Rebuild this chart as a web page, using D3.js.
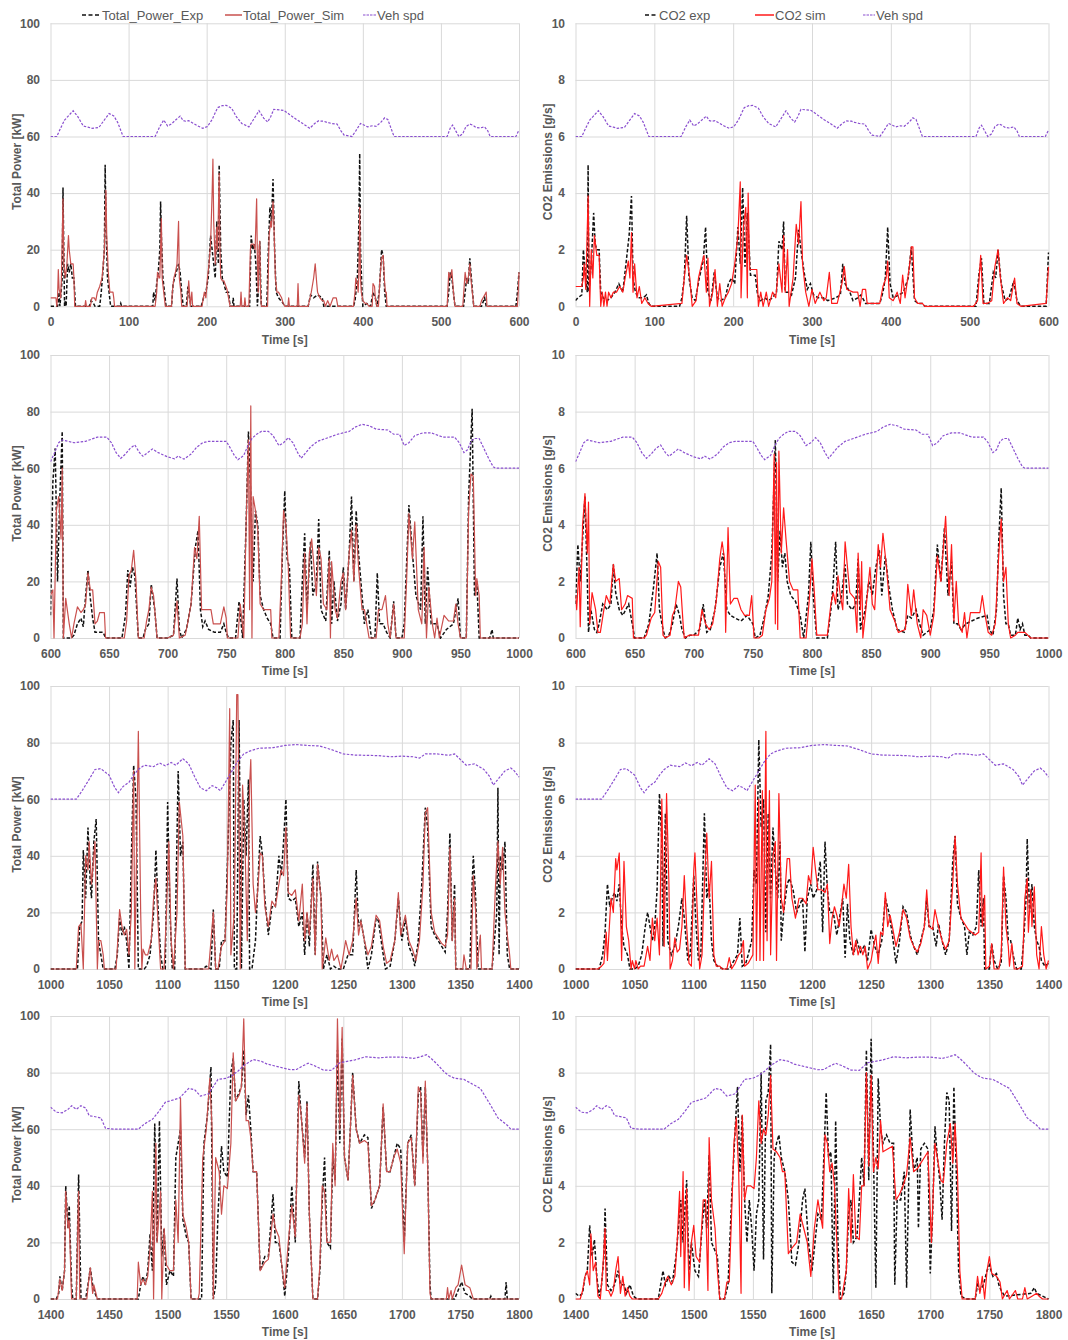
<!DOCTYPE html>
<html><head><meta charset="utf-8">
<script src="https://cdn.jsdelivr.net/npm/d3@7"></script>
<style>body{margin:0;background:#fff;}svg{display:block;font-family:"Liberation Sans",Arial,sans-serif;}</style>
</head><body>
<script>
// ---------- DATA ----------
const panelRanges = [[0,600],[600,1000],[1000,1400],[1400,1800]];
const timeTicks = [[0,100,200,300,400,500,600],[600,650,700,750,800,850,900,950,1000],[1000,1050,1100,1150,1200,1250,1300,1350,1400],[1400,1450,1500,1550,1600,1650,1700,1750,1800]];
const powerTicks = [0,20,40,60,80,100];
const co2Ticks = [0,2,4,6,8,10];
const legendPower = ["Total_Power_Exp","Total_Power_Sim","Veh spd"];
const legendCo2 = ["CO2 exp","CO2 sim","Veh spd"];

// vehicle speed trace as plotted (power-axis units; CO2 panels show it /10)
const vehSpd = [[0,60],[8,60],[13,63],[18,65.8],[23,67.3],[29,69.1],[35,67],[42,63.7],[48,63.3],[53,62.9],[62,63.2],[68,65.5],[75,68.1],[81,67.3],[86,65],[93,60],[134,60],[140,63.5],[145,65.8],[150,63.7],[155,64.5],[161,66],[166,67.2],[170,65.6],[173,65.4],[177,65.6],[182,64.8],[188,63.8],[195,62.9],[201,63.5],[207,66],[214,70.2],[220,70.9],[225,71],[232,70],[238,67],[245,64.6],[254,63.4],[260,66],[267,69.1],[273,66.5],[278,65.1],[282,67],[286,69.6],[299,69.2],[306,67.8],[315,66],[322,64.8],[332,62.9],[338,64.5],[343,65.5],[350,65.4],[354,65],[360,64.6],[367,64.4],[372,62],[376,60.5],[386,60],[391,62],[397,64.6],[402,64],[406,63.4],[412,63.8],[417,63.6],[423,65],[428,66.6],[432,66],[436,63],[440,60],[508,60],[512,63],[515,64],[519,62],[523,60],[528,61],[532,63.5],[537,64.4],[541,64],[545,63.2],[550,63],[556,63.4],[560,62],[563,60],[596,60],[600,62.3],
[603,65],[607,69],[610,70],[615,69.5],[620,69],[630,69.5],[640,71],[648,71],[652,69],[656,65.5],[660,63.5],[664,65],[668,67],[672,68.2],[676,65.5],[679,64.2],[683,65.5],[687,66.8],[692,65.5],[700,64],[706,63.3],[709,64.3],[711,63.8],[714,63.2],[720,65],[725,67.5],[730,69],[735,69.5],[750,69.5],[753,67.5],[757,64.5],[760,63],[765,64.5],[768,67.5],[772,70.5],[776,72],[780,73],[786,73],[790,71.5],[795,68],[799,69],[803,70.8],[807,69],[811,65.5],[814,63.5],[818,65.5],[822,67.5],[828,69.5],[835,70.5],[845,72],[855,73],[860,74.5],[866,75.5],[872,75],[878,73.8],[888,73.5],[893,72],[898,72],[902,68],[906,69],[911,71.5],[918,72.5],[925,72.5],[935,71],[945,71],[949,69],[953,65.5],[956,66.5],[959,69.5],[962,70.5],[966,70.5],[970,67],[974,63.5],[978,60.5],[980,60],[1000,60],
[1022,60],[1027,63],[1033,67],[1038,70.5],[1043,70.8],[1050,68.5],[1055,64],[1058,62.3],[1062,64.5],[1067,66],[1071,68.5],[1075,70.5],[1080,72],[1088,71.5],[1093,72.8],[1098,71.8],[1103,73],[1107,72],[1113,74.3],[1118,72.5],[1123,68],[1128,64],[1133,63],[1138,64.8],[1142,64],[1145,63],[1150,66.5],[1155,70],[1160,73.5],[1165,76],[1170,77],[1178,78],[1190,78.2],[1200,79],[1210,79.3],[1220,79],[1230,78.8],[1240,77.5],[1250,76],[1260,75.6],[1270,75.5],[1280,75.4],[1290,75],[1300,75.2],[1310,75],[1315,74.5],[1320,76],[1330,76],[1340,75.5],[1345,76],[1350,74],[1355,72],[1362,72.5],[1370,70.5],[1375,68],[1378,65],[1383,67.5],[1388,70],[1393,71],[1396,70],[1400,67.8],
[1405,66],[1410,65.8],[1415,67],[1418,68.3],[1422,67],[1426,68.3],[1430,67.5],[1433,64.8],[1437,64.5],[1443,64],[1447,60.3],[1455,60],[1475,60],[1480,61.8],[1487,63.5],[1492,66],[1498,69.5],[1510,71],[1518,74.4],[1523,74],[1528,71.7],[1535,72.5],[1543,77.6],[1550,78],[1555,79],[1560,80.5],[1565,82.5],[1573,84.6],[1580,84],[1585,83],[1590,82.5],[1600,81.5],[1605,81],[1610,81.1],[1615,82.3],[1620,83.3],[1625,82.5],[1633,80.9],[1640,80.8],[1647,83.5],[1660,84.5],[1669,85.6],[1680,85.2],[1690,85.5],[1700,85.5],[1710,85],[1715,85.5],[1721,86.3],[1725,85],[1730,83],[1736,80.3],[1740,79],[1745,78],[1753,77.6],[1760,76],[1767,74.4],[1775,69],[1782,64],[1790,61.4],[1793,60],[1800,60]];

// ---- 0-600 s ----
const powerExpA = [[0,0],[9,0],[10,1],[11,5],[12,0],[13,3],[15,10],[16,42],[17,20],[18,0],[19,2],[20,0],[21,8],[22,15],[24,12],[26,15],[28,10],[30,10],[31,5],[32,0],[50,0],[52,2],[55,1],[57,0],[63,0],[65,5],[67,12],[69,20],[70,50],[71,30],[73,10],[75,5],[77,0],[89,0],[90,1],[91,0],[131,0],[132,5],[134,2],[136,8],[138,12],[140,20],[141,37],[142,25],[144,10],[146,5],[148,0],[155,0],[157,8],[159,10],[161,12],[164,15],[166,12],[168,5],[170,0],[174,0],[176,7],[178,3],[180,0],[193,0],[196,3],[199,5],[202,10],[205,25],[207,20],[209,15],[211,10],[213,30],[215,15],[216,50],[218,20],[220,10],[222,8],[225,5],[228,5],[230,0],[233,0],[234,3],[235,0],[255,0],[257,25],[259,20],[261,22],[263,15],[265,0],[266,5],[268,23],[269,10],[270,0],[277,0],[279,20],[281,35],[283,30],[285,45],[287,20],[289,5],[292,3],[295,2],[298,1],[300,0],[330,0],[333,4],[337,3],[342,4],[348,3],[350,0],[388,0],[390,2],[393,10],[395,30],[396,54],[397,20],[399,5],[400,0],[405,1],[410,0],[413,5],[416,3],[418,0],[421,5],[423,15],[424,20],[426,18],[428,5],[430,0],[508,0],[510,5],[512,12],[514,10],[516,5],[518,0],[529,0],[531,5],[533,10],[535,8],[537,17],[539,10],[542,0],[552,0],[556,3],[558,0],[596,0],[598,5],[600,12]];
const powerSimA = [[0,3],[7,3],[8,0],[9,3],[10,13],[11,6],[12,5],[13,3],[14,10],[16,38],[17,15],[19,10],[21,15],[23,25],[24,20],[26,15],[29,15],[30,10],[31,0],[44,0],[45,2],[46,0],[51,0],[53,3],[56,3],[58,2],[60,5],[63,7],[66,10],[69,20],[71,41],[72,25],[74,12],[76,5],[78,5],[80,5],[81,3],[82,0],[134,0],[136,5],[137,12],[139,10],[140,10],[142,31],[143,10],[145,5],[147,0],[155,0],[156,5],[158,10],[160,12],[162,15],[164,30],[165,10],[167,5],[168,0],[175,0],[177,9],[178,5],[179,0],[181,5],[182,0],[194,0],[197,5],[199,3],[201,10],[203,15],[205,22],[207,40],[208,52],[209,30],[211,15],[213,28],[214,20],[216,47],[217,20],[218,10],[220,9],[222,9],[226,6],[228,3],[230,0],[243,0],[244,5],[245,0],[248,0],[249,3],[250,0],[254,0],[256,20],[257,22],[260,22],[262,20],[264,38],[265,15],[266,5],[267,20],[268,23],[269,5],[270,0],[278,0],[280,25],[282,30],[283,28],[285,37],[286,30],[288,10],[290,5],[292,5],[294,4],[296,3],[298,1],[300,0],[304,0],[305,3],[306,0],[316,0],[317,8],[318,0],[330,0],[334,5],[337,10],[339,15],[341,8],[342,5],[345,3],[348,2],[350,2],[352,0],[355,2],[358,0],[362,3],[366,3],[368,0],[388,0],[390,5],[391,10],[393,8],[394,5],[395,12],[396,35],[397,10],[398,5],[400,2],[403,1],[405,1],[408,0],[412,0],[413,8],[415,7],[416,3],[418,0],[420,0],[422,10],[424,17],[426,18],[428,8],[429,5],[430,5],[431,0],[508,0],[510,12],[512,10],[514,13],[516,5],[518,0],[528,0],[531,12],[533,8],[535,10],[537,15],[539,8],[541,3],[542,0],[550,0],[552,2],[556,4],[558,5],[559,0],[598,0],[599,5],[600,12]];
const co2ExpA = [[0,0.2],[3,0.3],[8,0.4],[10,2.0],[13,1.0],[15,0.5],[16,5.0],[17,0.5],[20,1.5],[23,3.3],[25,2.2],[27,2.0],[30,2.0],[32,0.5],[35,0.3],[40,0.2],[45,0.3],[50,0.5],[55,0.8],[60,0.5],[64,1.5],[68,2.5],[71,3.9],[73,1.0],[76,0.5],[80,0.3],[86,0.3],[90,0.4],[93,0.1],[96,0],[132,0],[135,0.3],[138,1.0],[141,3.2],[144,1.0],[148,0.3],[152,0.2],[157,1.0],[162,1.6],[165,2.8],[168,0.5],[172,0.2],[176,1.2],[180,0.3],[184,0.2],[190,0.3],[194,0.8],[198,1.0],[202,0.8],[206,2.8],[209,1.5],[212,4.2],[215,1.4],[218,3.3],[222,1.1],[228,1.1],[231,0.4],[235,0.2],[240,0.3],[245,0.2],[250,0.3],[255,0.5],[258,2.3],[262,2.0],[264,3.0],[266,0.5],[270,0.5],[274,0.4],[279,1.0],[283,2.7],[286,2.0],[290,1.2],[294,0.6],[298,0.8],[302,0.4],[308,0.3],[314,0.3],[320,0.2],[330,0.3],[336,0.4],[339,1.5],[342,0.8],[348,0.5],[352,0.2],[358,0.3],[362,0.4],[368,0.1],[386,0.1],[390,0.5],[393,1.0],[396,2.8],[399,0.8],[403,0.3],[410,0.4],[416,0.5],[422,1.0],[426,2.1],[430,0.2],[435,0.1],[440,0.1],[443,0],[508,0],[512,1.2],[515,1.7],[518,0.1],[525,0.1],[530,1.2],[533,1.0],[536,2.0],[540,0.8],[545,0.2],[550,0.3],[556,0.9],[560,0.2],[565,0],[597,0],[600,1.9]];
const co2SimA = [[0,0.7],[8,0.7],[10,1.0],[11,1.5],[13,0.6],[16,3.9],[18,0],[20,2.0],[22,1.0],[24,2.5],[27,1.8],[30,1.8],[32,0],[34,0.5],[36,0],[38,0.5],[40,0],[42,0.5],[45,0.3],[48,0.5],[52,0.5],[56,0.7],[60,0.5],[63,1.0],[67,1.6],[69,1.0],[71,2.6],[73,0.5],[75,1.5],[78,0.3],[81,0.7],[84,0.1],[88,0.3],[92,0.1],[96,0],[135,0.1],[138,1.0],[141,1.8],[145,1.0],[148,0],[153,0.2],[156,1.0],[160,1.5],[163,1.8],[166,0.5],[168,1.7],[170,0],[174,0.5],[177,1.3],[180,0],[183,0.8],[186,0],[190,0.3],[194,0.5],[198,0.8],[202,1.5],[206,2.5],[209,4.4],[210,0.3],[213,2.8],[216,3.5],[218,0.3],[219,4.0],[221,1.3],[230,1.3],[232,0],[235,0.5],[238,0],[242,0.5],[245,0],[250,0.5],[254,0.3],[258,1.5],[262,0.5],[264,2.5],[266,0.5],[269,2.0],[271,0],[276,1.0],[280,2.9],[283,2.2],[286,3.7],[288,1.5],[292,0.5],[296,0],[300,0.6],[304,0.1],[310,0.5],[315,0.2],[318,0.3],[322,1.2],[325,0.1],[332,0.1],[338,0.8],[341,1.4],[344,0.6],[352,0.5],[358,0.5],[361,0],[364,0.6],[368,0.6],[370,0.1],[386,0.1],[390,0.7],[394,1.0],[396,1.6],[398,0.3],[403,0.2],[408,0.5],[412,0.1],[415,1.1],[418,0.3],[424,1.5],[426,2.1],[428,2.1],[430,0.3],[434,0.1],[440,0.1],[443,0],[505,0],[510,0.2],[514,1.8],[517,0.1],[522,0.1],[528,0.2],[532,1.4],[536,2.0],[539,1.0],[543,0.1],[548,0.3],[552,0.2],[557,1.0],[560,0.1],[565,0],[597,0.1],[600,1.4]];

// ---- 600-1000 s ----
const powerExpB = [[600,8],[602,55],[604,67],[606,20],[608,50],[610,73],[611,0],[618,0],[620,1],[623,5],[626,7],[628,4],[630,15],[632,24],[634,14],[636,7],[638,2],[645,2],[647,0],[661,0],[664,8],[666,24],[668,18],[670,25],[672,22],[675,0],[679,0],[681,3],[684,5],[686,19],[689,10],[691,0],[700,0],[705,1],[708,21],[710,3],[712,0],[716,3],[720,12],[722,23],[724,33],[726,38],[728,10],[730,4],[732,6],[735,3],[740,2],[745,2],[748,5],[750,2],[752,0],[758,0],[761,13],[764,0],[767,40],[769,73],[771,50],[773,20],[775,45],[777,40],[779,15],[782,10],[785,7],[788,5],[790,0],[796,0],[798,30],[800,52],[802,28],[804,25],[806,0],[813,0],[815,20],[817,37],[819,10],[822,34],[824,15],[827,20],[829,42],[831,10],[835,6],[838,31],[840,5],[842,20],[845,6],[848,12],[850,25],[852,10],[855,30],[857,50],[859,20],[861,45],[863,30],[866,15],[868,5],[871,10],[874,0],[877,0],[879,23],[881,5],[884,5],[887,2],[890,0],[893,13],[895,0],[900,0],[902,5],[906,47],[909,30],[912,15],[916,10],[918,43],[920,5],[922,25],[925,5],[930,5],[933,0],[938,3],[944,5],[948,14],[950,0],[955,0],[957,50],[960,81],[962,15],[964,20],[966,0],[975,0],[977,3],[978,0],[1000,0]];
const powerSimB = [[600,15],[602,17],[603,0],[605,45],[607,50],[609,35],[610,60],[611,0],[613,14],[616,5],[618,0],[620,5],[623,11],[626,9],[628,10],[630,12],[632,23],[634,17],[636,17],[638,5],[640,6],[642,9],[646,9],[647,0],[663,0],[665,6],[667,22],[669,24],[671,31],[673,20],[675,0],[680,0],[682,6],[684,10],[686,18],[688,15],[691,0],[700,0],[705,1],[708,13],[710,0],[715,1],[717,5],[720,12],[723,32],[725,28],[727,43],[729,10],[733,10],[737,10],[739,5],[745,5],[748,11],[750,7],[751,0],[760,0],[762,12],[765,0],[767,40],[769,70],[770,10],[771,82],[772,0],[773,50],[775,45],[777,38],[779,12],[782,10],[788,10],[789,0],[795,0],[797,20],[799,45],[801,40],[803,25],[805,0],[813,0],[815,5],[817,30],[819,5],[821,30],[823,35],[825,25],[827,15],[829,32],[831,28],[833,12],[836,10],[838,28],[839,0],[840,27],[843,10],[845,7],[848,20],[850,23],[852,10],[855,30],[857,38],[859,20],[861,40],[863,25],[866,10],[868,10],[870,5],[872,0],[878,0],[880,10],[883,10],[886,15],[888,5],[890,0],[893,12],[895,0],[902,0],[904,20],[906,44],[909,28],[911,41],[914,10],[917,5],[919,32],[921,0],[923,18],[926,5],[928,0],[930,7],[932,0],[936,8],[940,6],[944,6],[946,12],[948,5],[950,0],[955,0],[957,45],[959,58],[961,57],[963,15],[964,21],[966,15],[967,0],[1000,0]];
const co2ExpB = [[600,1.2],[602,3.3],[604,2.0],[606,3.5],[608,5.0],[610,2.0],[611,0.2],[613,1.0],[616,0.3],[618,0.2],[620,0.5],[623,1.2],[627,1.0],[630,1.2],[632,2.6],[634,1.6],[637,1.0],[640,0.8],[645,1.2],[648,0.5],[650,0],[658,0],[662,0.5],[666,1.8],[669,3.0],[671,1.0],[674,0.3],[676,0],[679,0.1],[682,0.5],[685,1.2],[688,0.8],[690,0.3],[693,0],[697,0.1],[700,0.1],[705,0.3],[708,1.2],[711,0.2],[714,0.3],[718,1.0],[722,2.5],[725,3.0],[728,1.0],[731,0.8],[735,0.7],[740,0.6],[745,0.8],[750,0.5],[752,0],[756,0.1],[760,0.8],[763,1.5],[766,3.0],[769,7.0],[771,2.0],[773,3.8],[775,2.5],[777,3.0],[779,2.0],[782,1.5],[786,1.3],[790,0.8],[793,0],[797,1.5],[799,3.4],[801,1.5],[804,0],[813,0],[816,1.0],[818,2.0],[820,3.4],[822,1.0],[825,1.5],[828,2.6],[830,1.2],[834,1.0],[837,1.2],[839,2.8],[841,0.3],[845,1.0],[848,2.0],[851,1.5],[854,2.5],[857,3.1],[859,1.5],[862,2.9],[865,1.8],[868,1.0],[872,0.3],[878,0.2],[881,0.8],[884,0.7],[888,1.0],[891,0.5],[894,0.1],[900,0.3],[903,1.0],[906,3.3],[909,2.0],[912,3.9],[915,1.5],[918,2.7],[920,0.5],[923,0.5],[926,0.3],[930,0.5],[935,0.6],[940,0.7],[948,0.8],[950,0.3],[953,0.1],[956,1.0],[958,3.5],[960,5.3],[962,1.5],[964,0.5],[966,0.5],[968,0.1],[972,0.1],[974,0.7],[976,0.3],[978,0.5],[980,0.1],[983,0.1],[985,0],[1000,0]];
const co2SimB = [[600,1.5],[601,1.0],[603,2.5],[604,0.4],[606,4.0],[608,5.1],[610,3.0],[611,4.8],[612,0.5],[614,1.6],[617,1.0],[619,0.2],[621,0.2],[624,1.0],[626,1.5],[629,1.2],[632,2.6],[634,2.0],[637,2.1],[639,1.0],[642,1.2],[644,1.5],[648,1.4],[649,0],[658,0],[660,0.1],[664,0.7],[667,0.9],[670,2.7],[672,2.5],[674,0.1],[676,0],[680,0.1],[682,0.8],[684,1.0],[687,2.0],[689,1.8],[691,0.5],[692,0],[696,0.1],[704,0.1],[707,1.0],[710,0.5],[713,0.3],[716,0.5],[719,1.3],[722,2.8],[724,3.4],[726,2.8],[727,0.2],[729,3.9],[731,1.2],[734,1.4],[737,1.4],[740,1.0],[743,0.8],[747,0.8],[749,1.5],[751,0],[755,0],[758,0.1],[761,1.0],[764,1.4],[766,2.0],[768,6.5],[769,0.5],[770,6.2],[771,0.3],[772,6.6],[774,3.0],[776,4.6],[778,3.5],[781,2.0],[784,1.7],[788,1.7],[790,0],[795,0],[798,1.5],[800,2.8],[802,1.6],[804,0.1],[813,0.1],[816,1.2],[818,1.6],[820,1.2],[822,2.2],[824,1.5],[826,1.0],[828,3.4],[830,2.5],[832,1.6],[836,1.4],[838,0.2],[839,3.0],[841,1.0],[842,2.7],[843,0],[846,1.2],[849,2.5],[851,1.2],[853,1.0],[856,3.3],[858,2.5],[860,3.7],[863,2.5],[866,1.0],[870,0.6],[873,0.2],[879,0.3],[881,1.9],[884,0.8],[886,1.7],[889,0.5],[892,0],[894,1.0],[897,0.8],[900,0.1],[903,0.8],[906,2.9],[909,2.0],[913,4.3],[916,1.5],[918,3.3],[920,0.6],[922,2.0],[924,0.5],[927,0.2],[929,0.9],[931,0],[934,0.9],[942,0.9],[944,1.5],[946,0.9],[949,0.2],[952,0.1],[955,0.5],[958,3.0],[960,4.2],[962,2.0],[964,2.5],[966,0.5],[968,0],[972,0.1],[974,0.2],[980,0.2],[985,0],[1000,0]];

// ---- 1000-1400 s ----
const powerExpC = [[1000,0],[1023,0],[1025,15],[1027,17],[1028,42],[1030,25],[1032,50],[1034,30],[1035,25],[1037,45],[1039,53],[1041,10],[1043,5],[1045,0],[1055,0],[1057,5],[1059,18],[1061,12],[1063,15],[1065,10],[1067,0],[1069,39],[1071,72],[1073,60],[1075,0],[1080,0],[1082,1],[1085,5],[1088,20],[1090,42],[1092,20],[1094,5],[1096,0],[1098,0],[1100,59],[1102,20],[1104,0],[1106,0],[1109,70],[1111,40],[1113,45],[1115,0],[1130,0],[1133,1],[1137,0],[1139,21],[1141,0],[1144,0],[1146,10],[1149,10],[1152,50],[1154,80],[1156,88],[1157,0],[1159,0],[1161,88],[1163,0],[1165,60],[1167,40],[1169,67],[1170,0],[1172,0],[1175,10],[1177,30],[1179,47],[1181,40],[1183,25],[1186,12],[1189,22],[1192,22],[1195,40],[1197,33],[1199,45],[1201,60],[1203,25],[1206,24],[1209,25],[1212,15],[1215,20],[1217,5],[1219,20],[1221,8],[1224,37],[1226,5],[1228,38],[1231,25],[1233,0],[1236,5],[1239,0],[1242,1],[1245,0],[1250,0],[1254,5],[1258,5],[1261,35],[1263,15],[1265,17],[1268,10],[1271,0],[1274,5],[1278,18],[1280,17],[1283,8],[1286,0],[1290,1],[1294,10],[1297,25],[1300,10],[1303,18],[1306,8],[1309,5],[1311,1],[1314,10],[1317,30],[1320,57],[1322,50],[1325,15],[1328,12],[1331,10],[1334,8],[1337,6],[1339,20],[1341,48],[1343,10],[1345,30],[1346,0],[1358,0],[1360,30],[1361,40],[1363,25],[1365,0],[1377,0],[1381,20],[1382,64],[1383,5],[1384,40],[1386,35],[1388,45],[1390,5],[1392,0],[1400,0]];
const powerSimC = [[1000,0],[1022,0],[1024,15],[1026,16],[1028,0],[1030,40],[1032,35],[1033,45],[1035,30],[1038,45],[1040,0],[1041,10],[1043,10],[1045,5],[1046,0],[1056,0],[1059,21],[1061,15],[1063,12],[1065,14],[1067,5],[1069,20],[1071,70],[1072,0],[1075,84],[1077,20],[1078,0],[1079,7],[1081,5],[1083,5],[1086,10],[1088,25],[1090,32],[1092,15],[1094,0],[1097,0],[1099,20],[1101,45],[1103,10],[1105,0],[1108,20],[1110,59],[1113,47],[1115,0],[1135,0],[1139,20],[1141,0],[1143,0],[1146,8],[1149,10],[1151,30],[1153,92],[1154,5],[1157,20],[1159,97],[1160,97],[1162,0],[1164,65],[1166,45],[1168,10],[1170,65],[1171,74],[1173,30],[1175,20],[1177,28],[1179,41],[1181,40],[1183,22],[1186,15],[1189,24],[1192,22],[1195,30],[1197,35],[1199,33],[1201,50],[1203,27],[1206,26],[1209,28],[1212,17],[1215,30],[1217,10],[1219,20],[1221,12],[1224,32],[1226,5],[1228,37],[1231,25],[1232,0],[1235,11],[1238,3],[1240,7],[1242,3],[1245,5],[1248,0],[1252,10],[1255,5],[1258,10],[1261,25],[1263,12],[1265,17],[1268,10],[1271,5],[1274,8],[1278,19],[1281,17],[1284,8],[1287,2],[1290,3],[1294,10],[1297,27],[1299,12],[1303,19],[1306,10],[1309,7],[1312,3],[1315,10],[1318,30],[1320,55],[1322,57],[1325,20],[1328,13],[1331,11],[1334,9],[1337,8],[1339,12],[1341,43],[1343,10],[1345,25],[1346,0],[1352,0],[1353,5],[1355,0],[1359,0],[1361,33],[1363,20],[1364,0],[1367,12],[1368,0],[1377,0],[1380,30],[1382,45],[1384,30],[1386,43],[1388,20],[1390,12],[1392,5],[1393,0],[1400,0]];
const co2ExpC = [[1000,0],[1020,0],[1023,0.5],[1025,1.3],[1027,3.0],[1029,2.2],[1031,2.5],[1033,2.7],[1035,2.4],[1037,3.0],[1039,1.5],[1041,0.8],[1044,0.5],[1046,0],[1050,0],[1053,0.1],[1056,0.5],[1059,1.5],[1061,2.0],[1063,1.5],[1065,1.0],[1067,1.5],[1069,2.8],[1071,6.2],[1073,4.5],[1074,0.8],[1076,5.5],[1078,1.0],[1081,0.5],[1084,0.8],[1087,1.5],[1090,2.5],[1092,1.8],[1095,0.3],[1097,0.5],[1100,3.3],[1102,1.5],[1104,0.3],[1106,0.5],[1109,5.5],[1111,2.5],[1113,3.0],[1115,1.0],[1117,0.3],[1120,0.1],[1125,0],[1130,0],[1134,0.3],[1137,0.5],[1139,1.8],[1141,0.1],[1144,0.2],[1146,0.5],[1149,1.0],[1151,3.5],[1153,3.0],[1155,8.1],[1157,5.0],[1159,6.0],[1161,1.3],[1163,5.5],[1165,2.5],[1167,5.0],[1169,3.5],[1171,2.5],[1173,4.5],[1174,1.0],[1176,2.0],[1179,3.0],[1181,3.2],[1184,2.8],[1187,2.0],[1190,2.3],[1192,2.5],[1194,0.6],[1196,2.5],[1199,3.0],[1201,2.5],[1204,2.8],[1207,3.8],[1209,1.3],[1211,4.5],[1213,2.8],[1215,2.0],[1218,2.0],[1221,1.2],[1224,2.0],[1226,2.5],[1228,0.4],[1230,2.3],[1232,1.0],[1235,0.5],[1238,1.0],[1241,0.6],[1244,0.8],[1247,0.3],[1250,1.4],[1253,0.8],[1256,0.5],[1259,1.0],[1262,2.5],[1265,2.0],[1268,1.2],[1271,0.2],[1274,1.0],[1277,2.2],[1280,2.0],[1283,1.2],[1286,0.8],[1289,0.5],[1292,1.0],[1295,1.5],[1297,2.5],[1299,1.5],[1302,1.5],[1305,0.8],[1307,1.6],[1310,1.0],[1313,0.5],[1316,1.0],[1319,3.8],[1321,4.7],[1323,2.3],[1326,1.8],[1329,1.5],[1331,0.5],[1333,1.3],[1336,1.2],[1339,1.5],[1341,3.5],[1343,1.5],[1345,2.5],[1346,0],[1350,0],[1352,0.9],[1354,0.3],[1357,0],[1360,0.2],[1362,3.3],[1364,2.5],[1366,1.0],[1368,1.0],[1370,0.5],[1373,0],[1377,0],[1379,1.0],[1381,2.5],[1382,4.6],[1384,2.0],[1386,3.0],[1388,1.5],[1390,1.0],[1392,0.8],[1394,0.3],[1397,0.1],[1400,0.2]];
const co2SimC = [[1000,0],[1019,0],[1022,0.1],[1024,0.2],[1026,1.3],[1027,0.3],[1030,2.5],[1032,2.0],[1034,3.9],[1035,3.5],[1037,4.1],[1039,0.3],[1041,3.8],[1043,1.5],[1045,1.0],[1047,0],[1048,0.3],[1050,0],[1051,0.3],[1053,0],[1055,0.1],[1058,0.1],[1061,0.8],[1063,0.3],[1065,1.8],[1067,1.0],[1069,1.8],[1071,0.5],[1073,6.0],[1075,0.8],[1077,6.2],[1079,3.0],[1080,0],[1082,0.3],[1084,1.1],[1086,0.6],[1088,0.7],[1090,1.5],[1092,3.3],[1094,1.5],[1096,0.2],[1098,0.1],[1100,3.5],[1101,4.1],[1103,2.0],[1105,0],[1107,0.5],[1109,3.0],[1111,4.8],[1113,2.5],[1115,3.8],[1117,0.5],[1119,0.1],[1122,0.1],[1124,0],[1128,0],[1130,0.4],[1132,0],[1135,0.2],[1138,0.5],[1140,0.6],[1142,1.0],[1143,0.1],[1146,0.2],[1150,0.5],[1152,6.5],[1153,0.3],[1155,6.0],[1156,0.3],[1158,6.3],[1159,0.3],[1161,8.4],[1162,1.0],[1164,6.3],[1165,0.5],[1167,4.0],[1169,4.5],[1170,0.3],[1172,6.2],[1174,2.5],[1176,2.0],[1179,3.9],[1181,3.9],[1183,2.5],[1186,1.8],[1189,2.5],[1192,2.5],[1195,2.3],[1197,3.3],[1199,3.0],[1201,4.3],[1203,3.5],[1205,2.8],[1208,2.8],[1211,2.7],[1213,3.0],[1215,0.9],[1217,1.8],[1219,2.2],[1221,1.9],[1223,1.5],[1225,2.2],[1227,3.0],[1229,2.5],[1231,3.7],[1233,1.5],[1235,0.5],[1237,1.0],[1239,0.5],[1241,0.8],[1243,0.5],[1245,0.8],[1247,0],[1250,0.3],[1252,0.8],[1254,1.2],[1256,0.2],[1258,1.3],[1260,1.2],[1262,2.7],[1264,1.5],[1266,1.9],[1268,1.5],[1271,0.8],[1274,1.3],[1277,2.1],[1280,1.8],[1283,1.1],[1286,0.8],[1289,0.6],[1292,0.9],[1295,1.5],[1297,2.8],[1299,1.5],[1302,1.4],[1304,2.1],[1307,1.5],[1310,1.0],[1313,0.7],[1316,1.0],[1319,3.0],[1321,4.7],[1323,3.0],[1326,1.8],[1329,1.6],[1332,1.4],[1335,1.3],[1338,1.2],[1341,1.3],[1343,4.1],[1344,1.5],[1346,2.6],[1347,0],[1350,0.1],[1352,0.9],[1354,0],[1358,0],[1360,0.5],[1362,3.6],[1364,1.5],[1366,0.8],[1367,0.1],[1369,0.9],[1371,0],[1374,0],[1378,0.1],[1380,2.5],[1382,3.2],[1383,1.3],[1385,2.8],[1386,1.5],[1388,2.9],[1390,0.5],[1392,0],[1394,1.5],[1396,0.5],[1398,0],[1400,0.3]];

// ---- 1400-1800 s ----
const powerExpD = [[1400,0],[1405,0],[1407,2],[1408,8],[1410,3],[1412,10],[1413,40],[1415,25],[1416,33],[1418,5],[1419,0],[1422,0],[1424,44],[1426,0],[1430,0],[1432,5],[1434,11],[1436,5],[1438,2],[1440,0],[1475,0],[1477,5],[1479,8],[1481,5],[1483,10],[1485,23],[1487,10],[1489,62],[1491,20],[1493,63],[1495,15],[1497,25],[1499,5],[1502,10],[1505,8],[1507,50],[1509,55],[1511,60],[1513,28],[1516,22],[1518,20],[1520,0],[1529,0],[1531,55],[1534,65],[1537,82],[1539,0],[1541,5],[1543,30],[1546,54],[1548,45],[1551,43],[1554,80],[1556,85],[1558,70],[1561,73],[1563,75],[1565,88],[1567,65],[1569,72],[1571,60],[1573,45],[1576,45],[1579,10],[1583,15],[1586,15],[1590,37],[1592,20],[1595,20],[1598,10],[1600,1],[1603,15],[1606,40],[1609,20],[1612,77],[1614,65],[1617,50],[1619,70],[1621,30],[1624,0],[1628,0],[1630,10],[1632,35],[1634,50],[1636,20],[1639,18],[1641,50],[1643,42],[1645,88],[1647,55],[1649,92],[1651,50],[1654,42],[1656,60],[1658,80],[1661,60],[1664,55],[1668,58],[1671,57],[1674,32],[1677,35],[1681,40],[1684,68],[1687,45],[1690,45],[1693,50],[1696,55],[1699,53],[1702,20],[1705,55],[1708,58],[1711,40],[1714,72],[1716,75],[1718,50],[1720,75],[1722,48],[1724,5],[1725,0],[1745,0],[1748,3],[1751,6],[1754,2],[1758,1],[1760,0],[1775,0],[1776,1],[1777,0],[1788,0],[1789,6],[1790,0],[1800,0]];
const powerSimD = [[1400,0],[1406,0],[1408,7],[1410,3],[1412,10],[1413,38],[1415,25],[1416,28],[1418,0],[1422,0],[1424,38],[1425,0],[1431,0],[1433,8],[1434,11],[1436,2],[1437,5],[1440,0],[1474,0],[1475,13],[1477,5],[1479,7],[1481,5],[1483,8],[1485,18],[1487,38],[1488,0],[1490,55],[1491,20],[1494,38],[1495,0],[1497,25],[1499,12],[1502,10],[1505,10],[1507,35],[1509,20],[1511,71],[1513,30],[1516,25],[1518,20],[1520,0],[1526,0],[1527,2],[1530,50],[1533,60],[1536,78],[1538,60],[1539,0],[1541,50],[1544,45],[1546,30],[1548,40],[1551,39],[1554,55],[1556,87],[1558,70],[1561,72],[1563,75],[1565,99],[1567,63],[1569,63],[1571,57],[1573,45],[1576,45],[1579,10],[1583,13],[1586,14],[1590,30],[1592,25],[1595,22],[1598,10],[1600,4],[1603,20],[1606,33],[1609,22],[1612,72],[1614,65],[1617,48],[1619,69],[1621,30],[1624,0],[1628,0],[1630,12],[1632,40],[1634,38],[1636,20],[1639,20],[1641,55],[1643,40],[1645,99],[1647,60],[1649,96],[1651,50],[1654,42],[1656,60],[1658,79],[1661,60],[1664,55],[1668,56],[1671,55],[1674,33],[1677,35],[1681,40],[1684,69],[1687,45],[1690,45],[1693,50],[1696,53],[1699,48],[1702,16],[1705,55],[1708,57],[1711,40],[1714,75],[1716,73],[1718,48],[1720,77],[1722,48],[1724,2],[1725,0],[1738,0],[1739,4],[1740,0],[1742,3],[1743,0],[1746,4],[1748,5],[1751,12],[1754,5],[1758,4],[1761,0],[1800,0]];
const co2ExpD = [[1400,0.2],[1403,0.1],[1406,0.2],[1408,0.8],[1410,1.0],[1412,2.6],[1414,1.5],[1416,2.1],[1418,0.8],[1420,0.1],[1422,0.5],[1424,1.5],[1425,3.2],[1427,0.5],[1430,0.3],[1433,0.5],[1436,1.0],[1438,0.5],[1441,0.5],[1443,0.2],[1446,0.5],[1449,0.1],[1452,0],[1470,0],[1472,0.5],[1474,1.0],[1476,0.5],[1479,0.8],[1482,0.6],[1485,1.5],[1487,2.5],[1489,3.5],[1491,2.0],[1493,3.5],[1494,4.2],[1496,1.0],[1498,2.0],[1501,1.0],[1504,0.8],[1507,2.5],[1509,3.5],[1511,2.5],[1513,5.1],[1515,2.0],[1517,1.8],[1520,1.5],[1522,0],[1526,0],[1529,0.5],[1532,3.5],[1535,6.0],[1537,7.5],[1539,4.5],[1541,6.5],[1543,3.5],[1545,2.0],[1547,3.5],[1549,2.5],[1551,1.0],[1553,3.0],[1555,3.5],[1557,8.0],[1559,1.4],[1561,7.0],[1563,7.3],[1565,9.0],[1566,0.2],[1568,5.0],[1570,5.5],[1572,5.8],[1574,5.0],[1577,4.5],[1580,3.5],[1583,1.3],[1586,1.2],[1589,2.0],[1592,3.5],[1594,3.9],[1597,2.0],[1600,1.0],[1602,1.8],[1605,3.0],[1608,2.8],[1610,5.0],[1612,7.3],[1614,5.0],[1616,5.2],[1618,0.2],[1620,6.3],[1622,2.0],[1624,0],[1627,0.2],[1629,1.0],[1631,3.0],[1633,3.5],[1635,2.0],[1638,2.2],[1640,3.5],[1642,5.0],[1644,4.0],[1646,8.8],[1648,4.2],[1650,9.2],[1652,5.0],[1654,0.4],[1656,7.8],[1658,6.0],[1660,5.5],[1663,5.8],[1666,5.5],[1669,5.5],[1670,0.5],[1672,3.5],[1675,3.5],[1678,4.5],[1680,0.4],[1683,6.7],[1686,4.5],[1689,5.0],[1690,2.5],[1692,5.3],[1695,5.5],[1698,5.3],[1700,0.9],[1702,3.0],[1704,6.1],[1706,5.0],[1708,4.2],[1710,2.8],[1712,5.5],[1714,7.3],[1716,7.0],[1718,2.4],[1720,7.5],[1722,4.5],[1724,1.0],[1726,0.1],[1730,0],[1738,0],[1740,0.5],[1742,0.3],[1745,0.5],[1748,1.0],[1750,1.2],[1753,0.8],[1756,0.9],[1758,0.5],[1760,0.3],[1763,0.1],[1785,0.2],[1788,0.4],[1790,0.2],[1795,0.1],[1800,0]];
const co2SimD = [[1400,0],[1404,0],[1406,0.3],[1408,0.8],[1410,1.0],[1412,0.5],[1413,2.3],[1415,1.0],[1417,1.3],[1419,0.1],[1421,0],[1423,1.0],[1425,2.5],[1426,0.3],[1428,0.3],[1430,0.1],[1432,0.3],[1434,1.0],[1436,1.5],[1438,0.2],[1440,0.8],[1442,0.1],[1444,0.4],[1446,0.1],[1448,0],[1470,0],[1473,0.2],[1476,0.6],[1478,0.8],[1481,0.5],[1484,0.8],[1486,2.0],[1488,3.8],[1489,1.5],[1491,4.5],[1492,0.4],[1494,3.9],[1496,0.3],[1498,2.0],[1500,2.6],[1502,1.5],[1505,1.3],[1508,3.5],[1510,3.5],[1512,0.3],[1513,5.7],[1515,3.5],[1518,2.5],[1520,1.0],[1522,0],[1526,0],[1528,0.6],[1530,0.6],[1532,3.0],[1534,5.5],[1536,6.4],[1538,4.5],[1540,0.2],[1541,6.5],[1543,3.5],[1545,4.0],[1548,4.0],[1551,3.9],[1553,5.0],[1555,7.0],[1557,5.5],[1559,6.0],[1561,5.8],[1563,6.5],[1565,7.9],[1567,5.3],[1570,5.2],[1573,5.0],[1575,4.5],[1577,4.5],[1580,1.6],[1583,1.8],[1587,2.0],[1590,3.0],[1593,2.5],[1596,2.0],[1599,0.8],[1602,2.5],[1605,3.5],[1607,3.0],[1609,2.5],[1611,5.8],[1613,5.5],[1615,4.5],[1617,4.8],[1619,4.0],[1621,2.0],[1623,0],[1625,0],[1627,0.5],[1629,1.0],[1631,3.9],[1633,2.0],[1635,4.4],[1637,2.2],[1640,2.1],[1642,4.0],[1644,4.0],[1646,8.0],[1648,4.7],[1650,7.9],[1652,4.5],[1654,5.0],[1656,4.6],[1658,6.3],[1660,5.2],[1664,5.3],[1668,5.4],[1671,3.5],[1674,3.7],[1677,4.0],[1680,4.4],[1683,5.7],[1686,4.5],[1689,4.6],[1692,4.8],[1695,5.0],[1698,5.2],[1701,2.0],[1704,5.5],[1706,5.0],[1709,4.2],[1711,4.1],[1714,5.5],[1717,6.2],[1719,4.8],[1721,6.2],[1723,4.5],[1725,1.0],[1727,0],[1738,0],[1740,0.8],[1742,0.2],[1744,0.8],[1746,0],[1748,1.0],[1750,1.5],[1752,0.9],[1756,0.8],[1759,0.6],[1761,0],[1765,0.3],[1767,0],[1772,0.3],[1774,0],[1778,0],[1780,0.4],[1782,0],[1786,0.1],[1790,0.2],[1792,0.1],[1795,0],[1800,0]];

const powerExp = [powerExpA, powerExpB, powerExpC, powerExpD];
const powerSim = [powerSimA, powerSimB, powerSimC, powerSimD];
const co2Exp = [co2ExpA, co2ExpB, co2ExpC, co2ExpD];
const co2Sim = [co2SimA, co2SimB, co2SimC, co2SimD];

// ---------- DRAW ----------
const W = 1068, H = 1340;
const svg = d3.select("body").append("svg").attr("width", W).attr("height", H);
const rowTops = [23.3, 355, 686, 1016];
const plotH = 283;
const cols = [
  {x0: 50.5, x1: 519, yMax: 100, ticks: powerTicks, title: "Total Power [kW]", titleX: 17, exp: powerExp, sim: powerSim, simColor: "#c9504e"},
  {x0: 575.5, x1: 1048.5, yMax: 10, ticks: co2Ticks, title: "CO2 Emissions [g/s]", titleX: 548, exp: co2Exp, sim: co2Sim, simColor: "#ff1a1a"}
];
const gridColor = "#d9d9d9", textColor = "#595959";
const expColor = "#111", spdColor = "#8a4fcf";

cols.forEach((c, ci) => {
  panelRanges.forEach((rng, ri) => {
    const top = rowTops[ri], bottom = top + plotH;
    const x = d3.scaleLinear().domain(rng).range([c.x0, c.x1]);
    const y = d3.scaleLinear().domain([0, c.yMax]).range([bottom, top]);
    const ySpd = d3.scaleLinear().domain([0, 100]).range([bottom, top]);
    const g = svg.append("g");

    const ya = g.append("g").attr("transform", `translate(${c.x0},0)`)
      .call(d3.axisLeft(y).tickValues(c.ticks).tickSize(-(c.x1 - c.x0)).tickPadding(10.5).tickFormat(d3.format("d")));
    ya.select(".domain").remove();
    ya.selectAll("line").attr("stroke", gridColor).attr("stroke-width", 1);
    ya.selectAll("text").attr("fill", textColor).attr("font-size", 12).attr("font-weight", "bold")
      .attr("font-family", '"Liberation Sans",Arial,sans-serif');

    const xa = g.append("g").attr("transform", `translate(0,${bottom})`)
      .call(d3.axisBottom(x).tickValues(timeTicks[ri]).tickSize(-plotH).tickPadding(11.5).tickFormat(d3.format("d")));
    xa.select(".domain").remove();
    xa.selectAll("line").attr("stroke", gridColor).attr("stroke-width", 1);
    xa.selectAll("text").attr("fill", textColor).attr("font-size", 12).attr("font-weight", "bold")
      .attr("font-family", '"Liberation Sans",Arial,sans-serif');

    g.append("text").attr("x", (c.x0 + c.x1) / 2).attr("y", bottom + 33).attr("dy", "0.35em")
      .attr("text-anchor", "middle").attr("fill", textColor).attr("font-size", 12).attr("font-weight", "bold")
      .text("Time [s]");
    g.append("text").attr("transform", `translate(${c.titleX},${(top + bottom) / 2 - 3}) rotate(-90)`)
      .attr("dy", "0.35em").attr("text-anchor", "middle").attr("fill", textColor)
      .attr("font-size", 12).attr("font-weight", "bold").text(c.title);

    const clipId = `clip-${ci}-${ri}`;
    g.append("clipPath").attr("id", clipId).append("rect")
      .attr("x", c.x0).attr("y", top - 2).attr("width", c.x1 - c.x0 + 1).attr("height", plotH + 3);
    const lines = g.append("g").attr("clip-path", `url(#${clipId})`);

    const line = d3.line().x(d => x(d[0])).y(d => y(d[1]));
    const lineSpd = d3.line().x(d => x(d[0])).y(d => ySpd(d[1]));

    lines.append("path").datum(c.exp[ri]).attr("d", line).attr("fill", "none")
      .attr("stroke", expColor).attr("stroke-width", 1.5).attr("stroke-dasharray", "3.5,2");
    lines.append("path").datum(c.sim[ri]).attr("d", line).attr("fill", "none")
      .attr("stroke", c.simColor).attr("stroke-width", 1.2).attr("stroke-linejoin", "round");
    lines.append("path").datum(vehSpd.filter(d => d[0] >= rng[0] && d[0] <= rng[1])).attr("d", lineSpd)
      .attr("fill", "none").attr("stroke", spdColor).attr("stroke-width", 1.2).attr("stroke-dasharray", "2.5,1.5");
  });
});

function legend(items) {
  items.forEach(it => {
    const lg = svg.append("g");
    lg.append("line").attr("x1", it.lx0).attr("x2", it.lx1).attr("y1", 15).attr("y2", 15)
      .attr("stroke", it.color).attr("stroke-width", it.w).attr("stroke-dasharray", it.dash || null);
    lg.append("text").attr("x", it.tx).attr("y", 15).attr("dy", "0.35em").attr("fill", textColor)
      .attr("font-size", 13).text(it.label);
  });
}
legend([
  {lx0: 82, lx1: 101, color: expColor, w: 1.5, dash: "4,2.5", tx: 102, label: legendPower[0]},
  {lx0: 225, lx1: 242, color: cols[0].simColor, w: 1.5, tx: 243, label: legendPower[1]},
  {lx0: 363, lx1: 376, color: spdColor, w: 1.2, dash: "2.5,1", tx: 377, label: legendPower[2]}
]);
legend([
  {lx0: 645, lx1: 658, color: expColor, w: 1.5, dash: "4,2.5", tx: 659, label: legendCo2[0]},
  {lx0: 755, lx1: 774, color: cols[1].simColor, w: 1.5, tx: 775, label: legendCo2[1]},
  {lx0: 863, lx1: 875, color: spdColor, w: 1.2, dash: "2.5,1", tx: 876, label: legendCo2[2]}
]);
</script>
</body></html>
